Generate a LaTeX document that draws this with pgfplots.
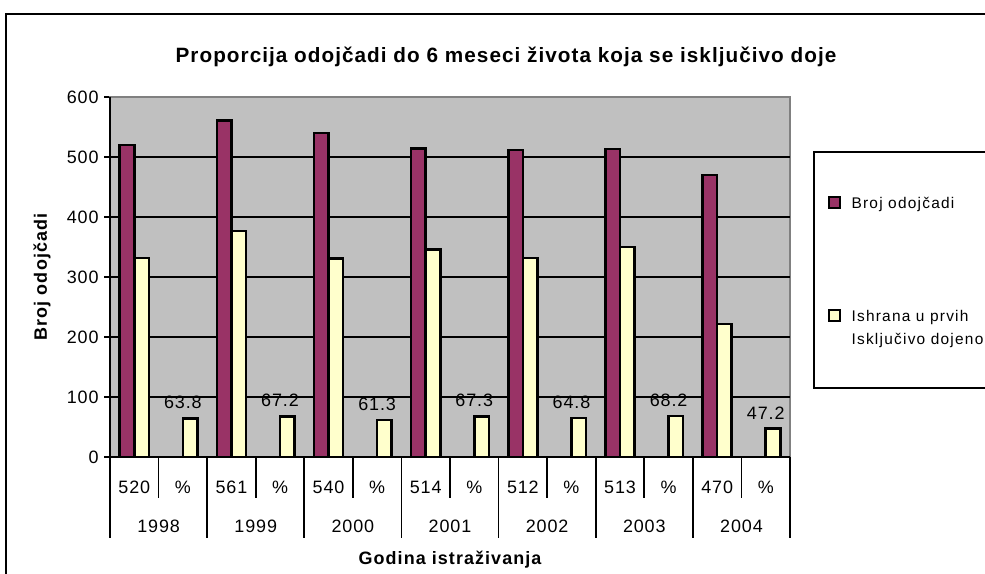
\documentclass[border=0pt]{standalone}
\usepackage{fontspec}
\setmainfont{Liberation Sans}
\newfontfamily\titlefont[LetterSpace=5]{Liberation Sans}
\newfontfamily\labfont[LetterSpace=6]{Liberation Sans}
\newfontfamily\legfont[LetterSpace=8]{Liberation Sans}
\newfontfamily\numfont[LetterSpace=5]{Liberation Sans}
\usepackage{pgfplots}
\pgfplotsset{compat=1.18}
\definecolor{plum}{HTML}{993366}
\definecolor{cream}{HTML}{FFFFCC}
\definecolor{plotgray}{HTML}{C0C0C0}
\pgfplotsset{
  sqlegend/.style={legend image code/.code={\draw[##1, line width=2bp] (0bp,-5bp) rectangle (11bp,6bp); \path (19bp,0bp);}},
  sqlegendup/.style={legend image code/.code={\draw[##1, line width=2bp] (0bp,7bp) rectangle (11bp,18bp); \path (19bp,0bp);}},
}
\begin{document}
\begin{tikzpicture}[x=1bp,y=1bp]
\useasboundingbox (0,0) rectangle (985,574);
\fill[white] (0,0) rectangle (985,574);
\draw[line width=2bp] (6,-5) -- (6,560) -- (990,560);
\node[font=\titlefont\bfseries\fontsize{20.8}{24}\selectfont] at (506,517) {Proporcija odojčadi do 6 meseci života koja se isključivo doje};
\draw[line width=1.8bp, fill=white] (814,422) rectangle (1000,186);
\begin{axis}[
  at={(110bp,117bp)}, anchor=south west,
  width=680bp, height=360bp, scale only axis,
  clip=false,
  xmin=-0.5, xmax=13.5, ymin=0, ymax=600,
  /pgf/number format/assume math mode=true,
  axis background/.style={fill=plotgray},
  axis line style={draw=gray, line width=1.2bp},
  ytick={0,100,...,600},
  ytick pos=left, ytick align=outside,
  major tick length=6bp,
  ytick style={black, line width=1.5bp},
  yticklabel style={font=\numfont\fontsize{18}{20}\selectfont, xshift=-2bp},
  extra y ticks={100,200,300,400,500},
  extra y tick labels={},
  extra y tick style={grid=major, major grid style={black, line width=1.3bp}},
  xtick={0,...,13},
  xticklabels={520,\%,561,\%,540,\%,514,\%,512,\%,513,\%,470,\%},
  xtick style={draw=none},
  xtick pos=bottom,
  xticklabel style={font=\numfont\fontsize{18}{20}\selectfont, anchor=center, yshift=-30bp},
  xlabel={Godina istraživanja},
  xlabel style={at={(axis description cs:0.5,-0.286)}, anchor=center, font=\labfont\bfseries\fontsize{18}{20}\selectfont},
  ylabel={Broj odojčadi},
  ylabel style={at={(axis description cs:-0.1,0.5)}, anchor=center, font=\labfont\bfseries\fontsize{18}{20}\selectfont},
  legend style={at={(axis description cs:1.056,0.728)}, anchor=north west, draw=none, fill=none, inner sep=0pt,
    font=\legfont\fontsize{15.5}{24}\selectfont, row sep=96bp, nodes={align=left, inner sep=2bp}},
  legend cell align=left,
  nodes near coords style={font=\numfont\fontsize{18}{20}\selectfont, yshift=5bp},
]
\addplot[ybar, bar width=0.3, bar shift=-0.15, fill=plum, draw=black, line width=2.5bp, sqlegend]
  coordinates {(0,520) (2,561) (4,540) (6,514) (8,512) (10,513) (12,470)};
\addlegendentry{Broj odojčadi}
\addplot[ybar, bar width=0.3, bar shift=0.15, fill=cream, draw=black, line width=2.5bp, sqlegendup]
  coordinates {(0,332) (2,377) (4,331) (6,346) (8,332) (10,350) (12,222)};
\addlegendentry{Ishrana u prvih\\Isključivo dojeno}
\addplot[ybar, bar width=0.3, bar shift=0.15, fill=cream, draw=black, line width=2.5bp, forget plot,
  nodes near coords, point meta=y]
  coordinates {(1,63.8) (3,67.2) (5,61.3) (7,67.3) (9,64.8) (11,68.2) (13,47.2)};
\draw[line width=2bp] (axis cs:-0.5,600) -- (axis cs:-0.5,0) -- (axis cs:13.5,0);
\pgfplotsinvokeforeach{-0.5,1.5,3.5,5.5,7.5,9.5,11.5,13.5}{\draw[line width=1.8bp] (axis cs:#1,0) -- ([yshift=-81bp]axis cs:#1,0);}
\pgfplotsinvokeforeach{0.5,2.5,4.5,6.5,8.5,10.5,12.5}{\draw[line width=1.8bp] (axis cs:#1,0) -- ([yshift=-41bp]axis cs:#1,0);}
\node[font=\numfont\fontsize{18}{20}\selectfont] at ([yshift=-69bp]axis cs:0.5,0) {1998};
\node[font=\numfont\fontsize{18}{20}\selectfont] at ([yshift=-69bp]axis cs:2.5,0) {1999};
\node[font=\numfont\fontsize{18}{20}\selectfont] at ([yshift=-69bp]axis cs:4.5,0) {2000};
\node[font=\numfont\fontsize{18}{20}\selectfont] at ([yshift=-69bp]axis cs:6.5,0) {2001};
\node[font=\numfont\fontsize{18}{20}\selectfont] at ([yshift=-69bp]axis cs:8.5,0) {2002};
\node[font=\numfont\fontsize{18}{20}\selectfont] at ([yshift=-69bp]axis cs:10.5,0) {2003};
\node[font=\numfont\fontsize{18}{20}\selectfont] at ([yshift=-69bp]axis cs:12.5,0) {2004};
\end{axis}
\end{tikzpicture}
\end{document}
